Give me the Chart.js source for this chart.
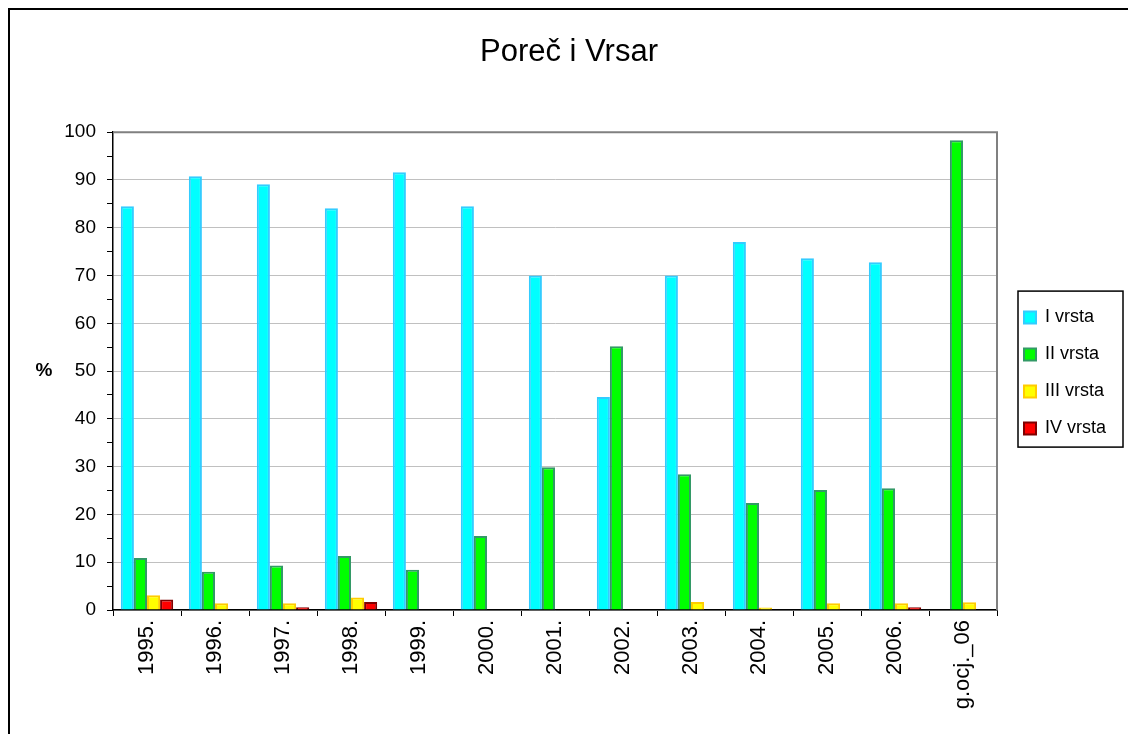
<!DOCTYPE html>
<html>
<head>
<meta charset="utf-8">
<script src="https://cdn.jsdelivr.net/npm/chart.js@4.4.1/dist/chart.umd.min.js"></script>
<style>
  html, body { margin: 0; padding: 0; background: #fff; }
  #frame { position: absolute; left: 8px; top: 8px; width: 1200px; height: 800px; border: 2px solid #000; }
  #wrap { position: absolute; left: 0; top: 0; width: 1128px; height: 734px; }
</style>
</head>
<body>
<div id="frame"></div>
<div id="wrap"><canvas id="chart" width="1128" height="734"></canvas></div>
<script>
var labels = ['1995.', '1996.', '1997.', '1998.', '1999.', '2000.', '2001.', '2002.', '2003.', '2004.', '2005.', '2006.', 'g.ocj._06'];
var vrsta1 = [84.5, 90.8, 89.1, 84.1, 91.6, 84.5, 70.0, 44.6, 70.0, 77.0, 73.6, 72.8, 0];
var vrsta2 = [10.9, 8.0, 9.3, 11.3, 8.4, 15.5, 29.9, 55.2, 28.4, 22.4, 25.1, 25.5, 98.3];
var vrsta3 = [3.1, 1.4, 1.4, 2.6, 0, 0, 0, 0, 1.7, 0.5, 1.4, 1.4, 1.6];
var vrsta4 = [2.2, 0, 0.6, 1.7, 0, 0, 0, 0, 0, 0, 0, 0.6, 0];
var seriesNames = ['I vrsta', 'II vrsta', 'III vrsta', 'IV vrsta'];

var font = "'Liberation Sans', Arial, sans-serif";

// gray top/right edge of the plot area
var plotFrame = {
  id: 'plotFrame',
  beforeDatasetsDraw: function(chart) {
    var a = chart.chartArea, c = chart.ctx;
    c.save();
    c.strokeStyle = '#808080';
    c.lineWidth = 2;
    c.beginPath();
    c.moveTo(a.left, a.top);
    c.lineTo(a.right, a.top);
    c.lineTo(a.right, a.bottom);
    c.stroke();
    c.restore();
  }
};

// fixed legend width, box round it, upright % label
var extras = {
  id: 'extras',
  beforeLayout: function(chart) {
    var lg = chart.legend;
    if (lg && !lg._fixed) {
      var fit = lg.fit;
      lg.fit = function() { fit.call(this); this.width = 131; };
      lg._fixed = true;
    }
  },
  afterLayout: function(chart) {
    chart.legend.left += 8;
    chart.legend.right += 8;
    chart.legend.top += 6;
    chart.legend.bottom += 6;
  },
  afterDraw: function(chart) {
    var a = chart.chartArea, c = chart.ctx;
    var mid = (a.top + a.bottom) / 2;
    c.save();
    c.strokeStyle = '#000';
    c.lineWidth = 1.5;
    c.strokeRect(a.right + 21, mid - 80, 105, 156);
    c.fillStyle = '#000';
    c.font = 'bold 19px ' + font;
    c.textAlign = 'center';
    c.textBaseline = 'middle';
    c.fillText('%', 44, mid);
    c.restore();
  }
};

new Chart(document.getElementById('chart'), {
  type: 'bar',
  data: {
    labels: labels,
    datasets: [
      { label: seriesNames[0], data: vrsta1, backgroundColor: '#00FFFF', borderColor: '#33CCFF', borderWidth: 2 },
      { label: seriesNames[1], data: vrsta2, backgroundColor: '#00FF00', borderColor: '#339966', borderWidth: 2 },
      { label: seriesNames[2], data: vrsta3, backgroundColor: '#FFFF00', borderColor: '#FFCC00', borderWidth: 2 },
      { label: seriesNames[3], data: vrsta4, backgroundColor: '#FF0000', borderColor: '#800000', borderWidth: 2 }
    ]
  },
  options: {
    responsive: false,
    animation: false,
    layout: { padding: { left: 10, top: 0, right: 0, bottom: 0 } },
    datasets: { bar: { categoryPercentage: 0.77, barPercentage: 1.0 } },
    plugins: {
      title: {
        display: true,
        text: 'Poreč i Vrsar',
        color: '#000',
        font: { family: font, size: 31, weight: 'normal' },
        padding: { top: 34, bottom: 61 }
      },
      legend: {
        position: 'right',
        labels: {
          color: '#000',
          font: { family: font, size: 18 },
          boxWidth: 12,
          boxHeight: 12,
          padding: 19
        }
      },
      tooltip: { enabled: false }
    },
    scales: {
      x: {
        offset: true,
        grid: { display: true, drawOnChartArea: false, offset: true, color: '#000', tickLength: 6 },
        border: { color: '#000', width: 1.5 },
        ticks: { color: '#000', font: { family: font, size: 22 }, maxRotation: 90, minRotation: 90, autoSkip: false, padding: 4 },
        afterFit: function(s) { s.height = 124; }
      },
      y: {
        min: 0,
        max: 100,
        ticks: {
          stepSize: 5,
          autoSkip: false,
          color: '#000',
          padding: 11,
          font: { family: font, size: 19 },
          callback: function(v) { return v % 10 === 0 ? v : ''; }
        },
        grid: {
          color: function(ctx) { return ctx.tick && ctx.tick.value % 10 === 0 ? '#c0c0c0' : 'rgba(0,0,0,0)'; },
          tickColor: '#000',
          tickLength: 6
        },
        border: { color: '#000', width: 1.5 },
        afterFit: function(s) { s.width = 103; }
      }
    }
  },
  plugins: [plotFrame, extras]
});
</script>
</body>
</html>
